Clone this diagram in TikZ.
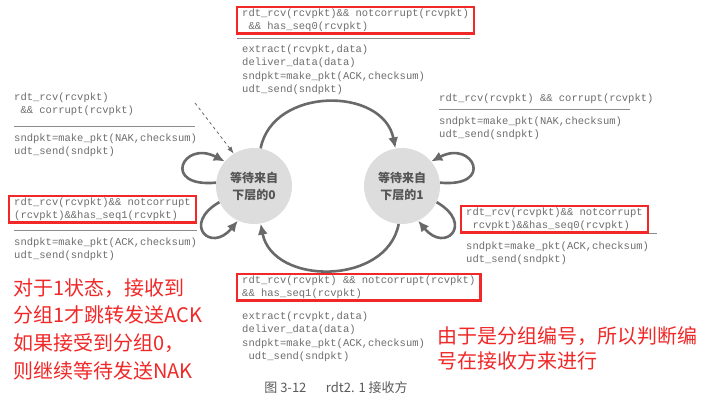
\documentclass[tikz,border=0pt]{standalone}
\usepackage{fontspec}
\newfontfamily\cjk{Noto Sans CJK SC}
\newfontfamily\mono{Liberation Mono}
\usetikzlibrary{arrows.meta, fit}
\definecolor{CodeGray}{RGB}{110,110,110}
\definecolor{ArcGray}{RGB}{105,105,105}
\definecolor{StateFill}{RGB}{221,221,221}
\definecolor{StateText}{RGB}{85,85,85}
\definecolor{NoteRed}{RGB}{240,40,40}
\definecolor{RuleGray}{RGB}{140,140,140}
\definecolor{CapGray}{RGB}{90,90,90}

\begin{document}
\begin{tikzpicture}[x=1pt, y=1pt,
	code/.style={anchor=north west, inner sep=0pt, align=left, text=CodeGray,
		font=\mono\fontsize{10.5}{13.5}\selectfont},
	state/.style={circle, fill=StateFill, minimum size=76pt, inner sep=0pt,
		align=center, text=StateText, font=\cjk\bfseries\fontsize{12}{17}\selectfont},
	trans/.style={draw=ArcGray, line width=2.6pt, -{Latex[length=11pt,width=10pt]}},
	init/.style={draw=ArcGray, line width=0.8pt, dashed, -{Latex[length=7pt,width=5pt]}},
	redbox/.style={draw=NoteRed, line width=2.4pt, inner xsep=5pt, inner ysep=1.5pt},
	sepline/.style={draw=RuleGray, line width=0.8pt},
	note/.style={anchor=north west, inner sep=0pt, align=left, text=NoteRed,
		font=\cjk\fontsize{20}{27.7}\selectfont}]
	\fill[white] (0,0) rectangle (712,-407);
	\useasboundingbox (0,0) rectangle (712,-407);
	% zustaende
	\node[state] (s0) at (254,-186) {等待来自\\下层的0};
	\node[state] (s1) at (402,-186) {等待来自\\下层的1};
	\coordinate (start) at (195,-103);
	\draw[init] (start) -- (s0.122);
	% uebergaenge
	\draw[trans] (s0.80) .. controls +(12,62) and +(-12,62) .. (s1.100);
	\draw[trans] (s1.265) .. controls +(-12,-62) and +(12,-62) .. (s0.280);
	\draw[trans] (s0.175) .. controls +(-55,-5) and +(-42,22) .. (s0.140);
	\draw[trans] (s0.205) .. controls +(-38,-22) and +(-27,-33) .. (s0.245);
	\draw[trans] (s1.5) .. controls +(55,-5) and +(42,22) .. (s1.40);
	\draw[trans] (s1.-25) .. controls +(38,-22) and +(27,-33) .. (s1.-65);
	% trennlinien
	\draw[sepline] (237,-38) -- (470,-38);
	\draw[sepline] (14,-126) -- (195,-126);
	\draw[sepline] (14,-230) -- (197,-230);
	\draw[sepline] (439,-109) -- (630,-109);
	\draw[sepline] (463,-233) -- (657,-233);
	% 0 -> 1
	\node[code] (c01) at (242,-8.5)
		{rdt\_rcv(rcvpkt)\&\& notcorrupt(rcvpkt)\\\ \&\& has\_seq0(rcvpkt)};
	\node[code] (a01) at (242,-44.5)
		{extract(rcvpkt,data)\\deliver\_data(data)\\sndpkt=make\_pkt(ACK,checksum)\\udt\_send(sndpkt)};
	% 0 -> 0
	\node[code] (c00) at (14,-92.5) {rdt\_rcv(rcvpkt)\\\ \&\& corrupt(rcvpkt)};
	\node[code] (a00) at (14,-133.5) {sndpkt=make\_pkt(NAK,checksum)\\udt\_send(sndpkt)};
	\node[code] (d00) at (14,-197.5)
		{rdt\_rcv(rcvpkt)\&\& notcorrupt\\(rcvpkt)\&\&has\_seq1(rcvpkt)};
	\node[code] (e00) at (14,-237.5) {sndpkt=make\_pkt(ACK,checksum)\\udt\_send(sndpkt)};
	% 1 -> 1
	\node[code] (c11) at (439,-93.5) {rdt\_rcv(rcvpkt) \&\& corrupt(rcvpkt)};
	\node[code] (a11) at (439,-116.5) {sndpkt=make\_pkt(NAK,checksum)\\udt\_send(sndpkt)};
	\node[code] (d11) at (466,-207.5)
		{rdt\_rcv(rcvpkt)\&\& notcorrupt\\\ rcvpkt)\&\&has\_seq0(rcvpkt)};
	\node[code] (e11) at (466,-241.5) {sndpkt=make\_pkt(ACK,checksum)\\udt\_send(sndpkt)};
	% 1 -> 0
	\node[code] (c10) at (242,-275.5)
		{rdt\_rcv(rcvpkt) \&\& notcorrupt(rcvpkt)\\\&\& has\_seq1(rcvpkt)};
	\node[code] (a10) at (242,-311.5)
		{extract(rcvpkt,data)\\deliver\_data(data)\\sndpkt=make\_pkt(ACK,checksum)\\\ udt\_send(sndpkt)};
	% rote rahmen
	\node[redbox, fit=(c01)] (b01) {};
	\node[redbox, fit=(d00)] (b00) {};
	\node[redbox, fit=(d11)] (b11) {};
	\node[redbox, fit=(c10)] (b10) {};
	% bildunterschrift
	\node[font=\cjk\fontsize{13}{15}\selectfont, text=CapGray] (cap) at (336,-388)
		{图 3-12\hspace{1.5em}rdt2. 1 接收方};
	% anmerkungen
	\node[note] (n1) at (13,-278)
		{对于1状态，接收到\\分组1才跳转发送ACK\\如果接受到分组0，\\则继续等待发送NAK};
	\node[note, font=\cjk\fontsize{20}{25}\selectfont] (n2) at (437,-326)
		{由于是分组编号，所以判断编\\号在接收方来进行};
\end{tikzpicture}
\end{document}
